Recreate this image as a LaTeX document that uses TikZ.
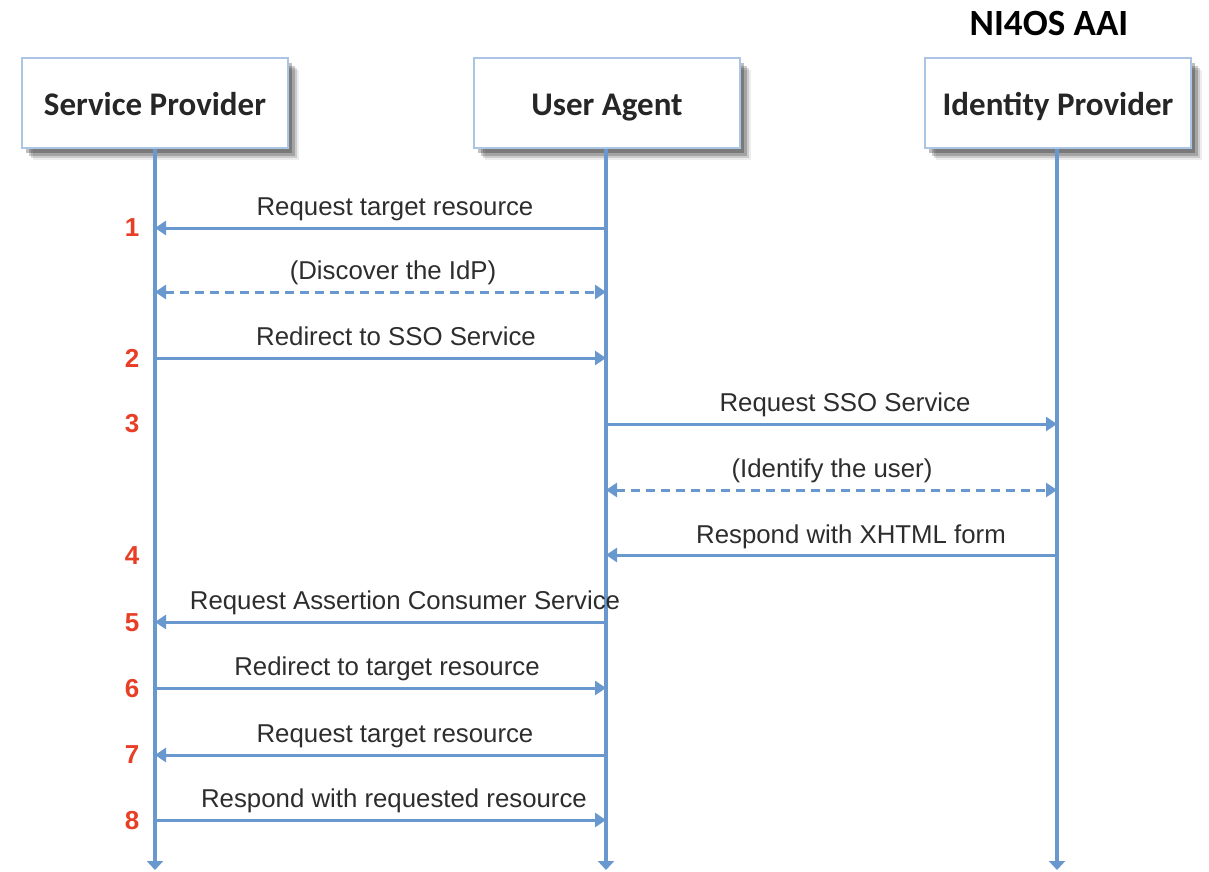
\documentclass[tikz,border=0pt]{standalone}
\usepackage{fontspec}
\setmainfont{Liberation Sans}
\newfontfamily\carlito{Carlito}
\usetikzlibrary{shadows,arrows.meta}
\definecolor{lifeblue}{RGB}{104,152,206}
\definecolor{boxedge}{RGB}{170,198,228}
\definecolor{numred}{RGB}{232,62,38}
\definecolor{txtgray}{RGB}{45,45,45}
\tikzset{
  actor/.style={draw=boxedge, line width=1.5pt, fill=white, minimum width=266pt, minimum height=90pt,
    inner sep=0pt, text height=25pt, text depth=0pt,
    font=\carlito\bfseries\fontsize{33}{36}\selectfont, text=black!85,
    drop shadow={shadow xshift=11pt, shadow yshift=-12pt, fill=black, opacity=0.07},
    drop shadow={shadow xshift=9pt, shadow yshift=-10pt, fill=black, opacity=0.14},
    drop shadow={shadow xshift=7pt, shadow yshift=-8pt, fill=black, opacity=0.2},
    drop shadow={shadow xshift=4pt, shadow yshift=-5pt, fill=black, opacity=0.25}},
  life/.style={draw=lifeblue, line width=3.6pt, -{Triangle[width=16pt,length=9pt]}},
  msg/.style={draw=lifeblue, line width=3pt, -{Triangle[width=14pt,length=11pt]}},
  dmsg/.style={draw=lifeblue, line width=3pt, dash pattern=on 9pt off 6pt,
    {Triangle[width=14pt,length=11pt]}-{Triangle[width=14pt,length=11pt]}},
  lbl/.style={anchor=base, font=\fontsize{25.8}{30}\selectfont, text=txtgray, inner sep=0pt},
  num/.style={font=\bfseries\fontsize{26}{30}\selectfont, text=numred, inner sep=0pt},
  title/.style={font=\carlito\bfseries\fontsize{37}{40}\selectfont, text=black, inner sep=0pt}
}
\begin{document}
\begin{tikzpicture}[x=1pt,y=-1pt]
\useasboundingbox (0,0) rectangle (1209,871);
\node[title] (ttl) at (1049,23) {NI4OS AAI};
\node[actor] (sp) at (155,103) {Service Provider};
\node[actor] (ua) at (607,103) {User Agent};
\node[actor] (idp) at (1058,103) {Identity Provider};
% lifeline ends
\coordinate (spe) at (155,870);
\coordinate (uae) at (606,870);
\coordinate (idpe) at (1057,870);
\draw[life] (sp.south -| spe) -- (spe);
\draw[life] (ua.south -| uae) -- (uae);
\draw[life] (idp.south -| idpe) -- (idpe);
% rows
\coordinate (r1) at (0,228);
\coordinate (rd1) at (0,292);
\coordinate (r2) at (0,358);
\coordinate (r3) at (0,424);
\coordinate (rd2) at (0,490);
\coordinate (r4) at (0,555);
\coordinate (r5) at (0,622);
\coordinate (r6) at (0,688);
\coordinate (r7) at (0,755);
\coordinate (r8) at (0,820);
% messages
\draw[msg] (uae |- r1) -- (spe |- r1);
\node[lbl] (l1) at (395,215) {Request target resource};
\draw[dmsg] (spe |- rd1) -- (uae |- rd1);
\node[lbl] (ld1) at (393,279) {(Discover the IdP)};
\draw[msg] (spe |- r2) -- (uae |- r2);
\node[lbl] (l2) at (396,345) {Redirect to SSO Service};
\draw[msg] (uae |- r3) -- (idpe |- r3);
\node[lbl] (l3) at (845,411) {Request SSO Service};
\draw[dmsg] (uae |- rd2) -- (idpe |- rd2);
\node[lbl] (ld2) at (832,477) {(Identify the user)};
\draw[msg] (idpe |- r4) -- (uae |- r4);
\node[lbl] (l4) at (851,543) {Respond with XHTML form};
\draw[msg] (uae |- r5) -- (spe |- r5);
\node[lbl] (l5) at (405,609) {Request Assertion Consumer Service};
\draw[msg] (spe |- r6) -- (uae |- r6);
\node[lbl] (l6) at (387,675) {Redirect to target resource};
\draw[msg] (uae |- r7) -- (spe |- r7);
\node[lbl] (l7) at (395,742) {Request target resource};
\draw[msg] (spe |- r8) -- (uae |- r8);
\node[lbl] (l8) at (394,807) {Respond with requested resource};
% step numbers
\node[num] (n1) at (132,228) {1};
\node[num] (n2) at (132,358) {2};
\node[num] (n3) at (132,424) {3};
\node[num] (n4) at (132,556) {4};
\node[num] (n5) at (132,623) {5};
\node[num] (n6) at (132,689) {6};
\node[num] (n7) at (132,755) {7};
\node[num] (n8) at (132,821) {8};
\end{tikzpicture}
\end{document}
